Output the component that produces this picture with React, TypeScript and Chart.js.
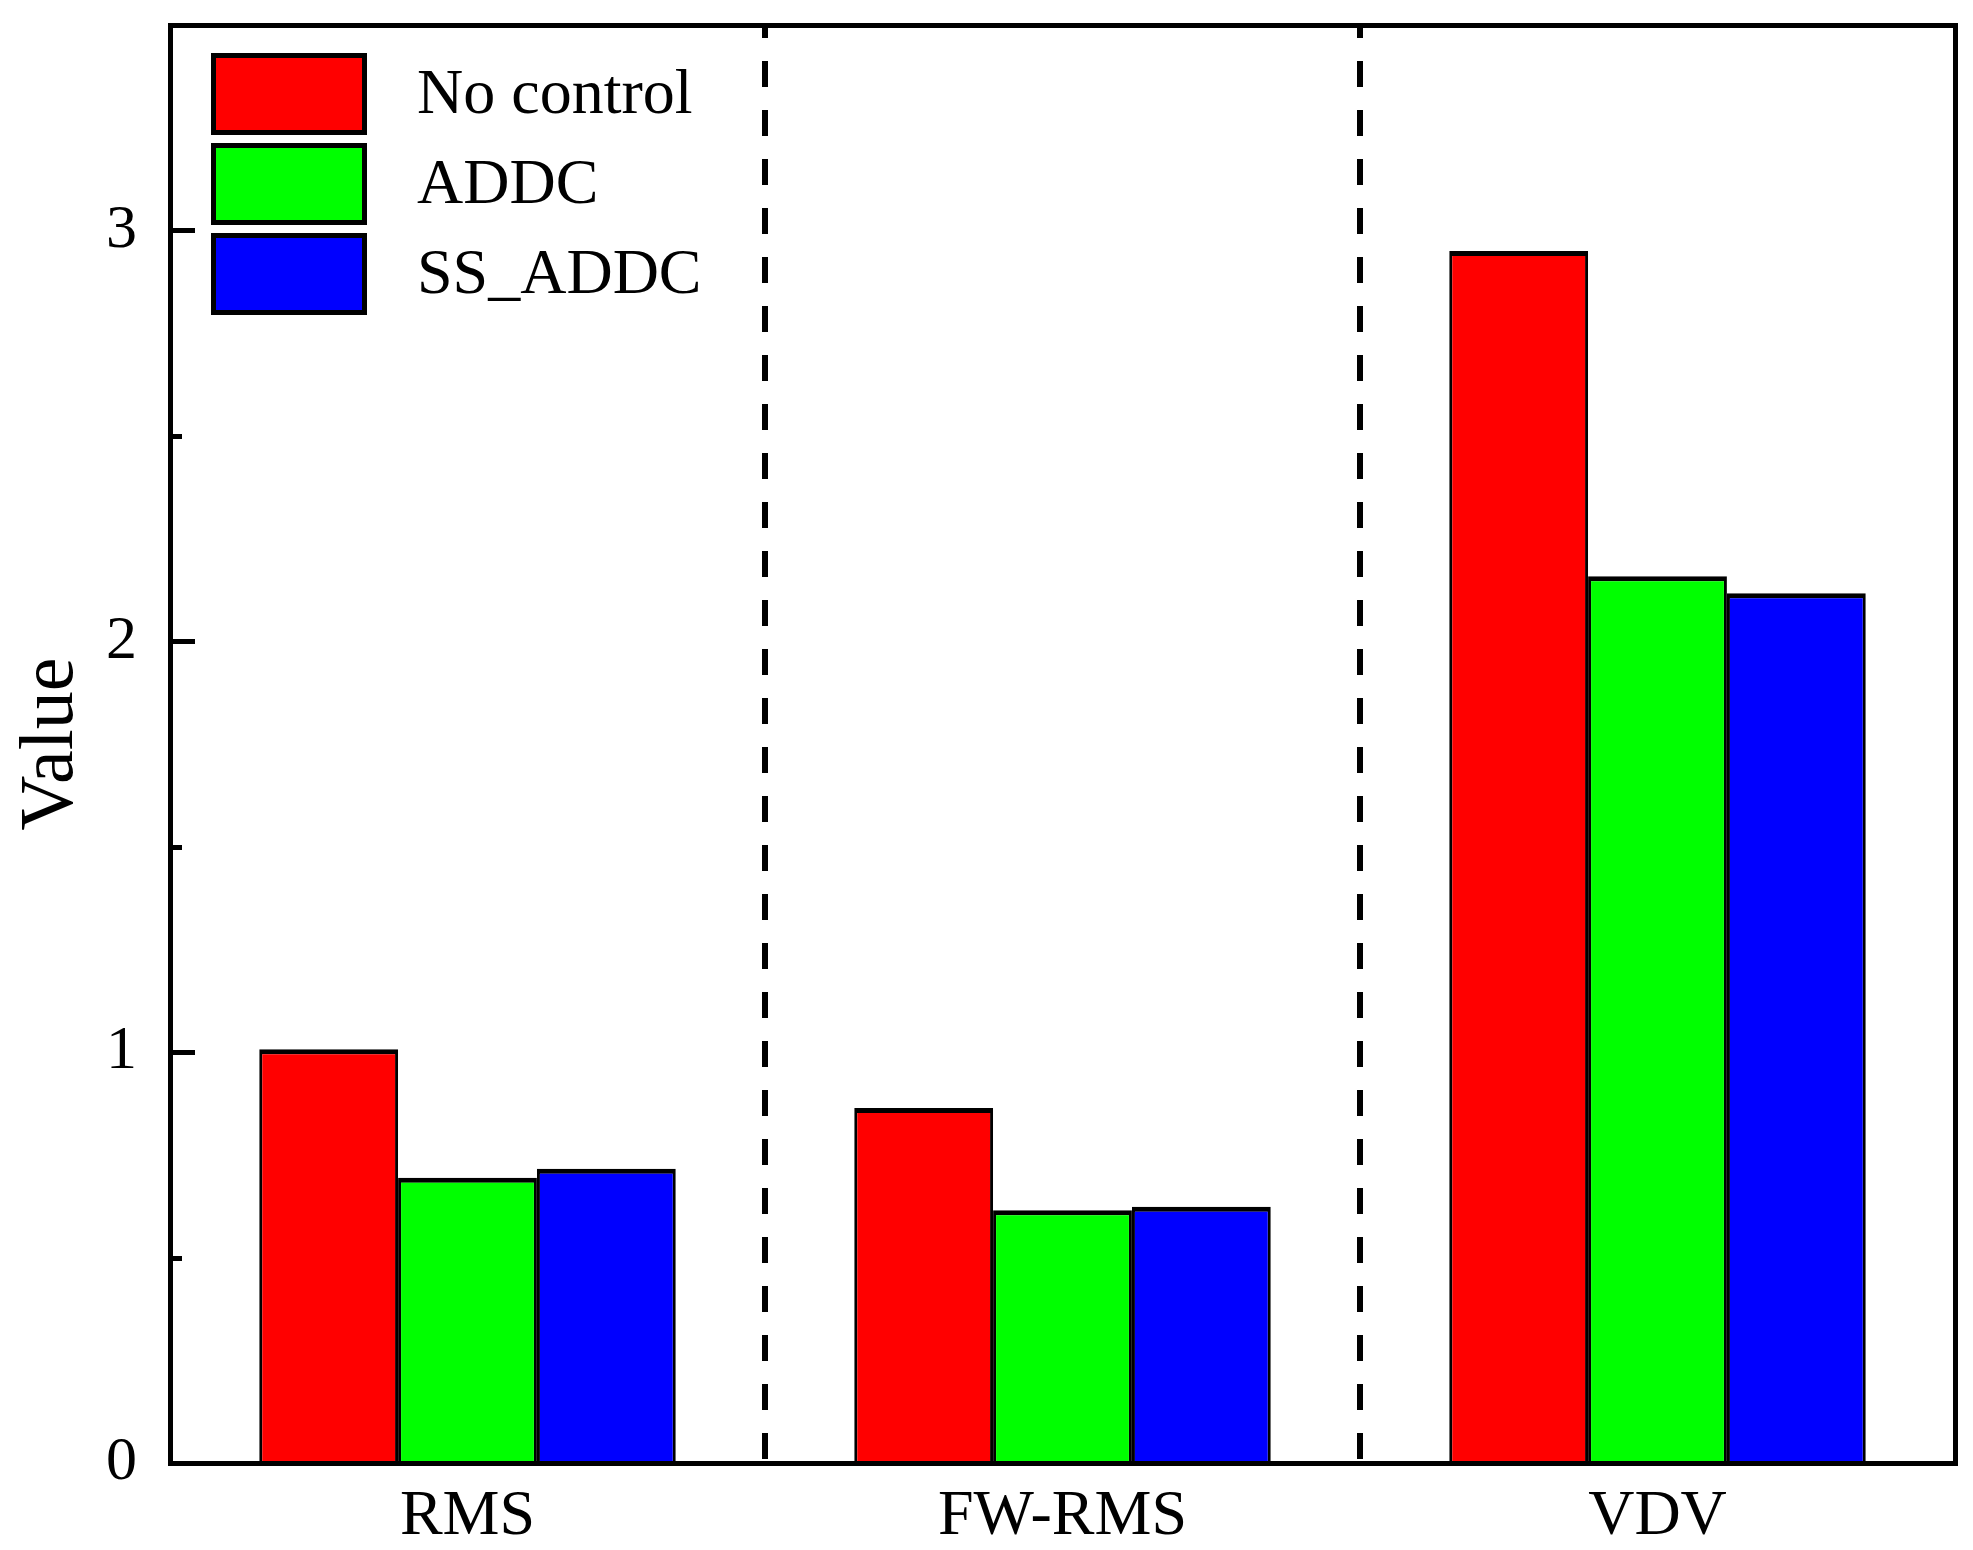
import { useEffect, useRef } from "react";
import { Chart, registerables, Plugin } from "chart.js";

Chart.register(...registerables);

const categories = ["RMS", "FW-RMS", "VDV"];
const seriesNames = ["No control", "ADDC", "SS_ADDC"];
const noControl = [1.007, 0.864, 2.95];
const addc = [0.694, 0.615, 2.158];
const ssAddc = [0.716, 0.624, 2.117];
const seriesColors = ["#ff0000", "#00ff00", "#0000ff"];
const yMajorTicks = [0, 1, 2, 3];
const yMinorTicks = [0.5, 1.5, 2.5];

const FONT = "'Liberation Serif', 'Times New Roman', serif";

// frame around the plot, inward ticks and the legend inside the plot area
const framePlugin: Plugin<"bar"> = {
  id: "frame",
  afterDatasetsDraw(chart) {
    const { ctx, chartArea } = chart;
    const left = Math.round(chartArea.left);
    const top = Math.round(chartArea.top);
    const right = Math.round(chartArea.right);
    const bottom = Math.round(chartArea.bottom);
    const y = chart.scales.y;
    const lw = 5;
    const h = 2;

    ctx.save();
    ctx.fillStyle = "#000";

    yMajorTicks.forEach((v) => {
      const py = Math.round(y.getPixelForValue(v));
      ctx.fillRect(left, py - h, 25, lw);
    });
    yMinorTicks.forEach((v) => {
      const py = Math.round(y.getPixelForValue(v));
      ctx.fillRect(left, py - h, 12, lw);
    });

    ctx.fillRect(left - h, top - h, right - left + lw, lw);
    ctx.fillRect(left - h, bottom - h, right - left + lw, lw);
    ctx.fillRect(left - h, top - h, lw, bottom - top + lw);
    ctx.fillRect(right - h, top - h, lw, bottom - top + lw);

    // legend
    const boxX = left + 41;
    const boxY = top + 28;
    const boxW = 156;
    const boxH = 82;
    const step = 90;
    ctx.font = `64px ${FONT}`;
    ctx.textAlign = "left";
    ctx.textBaseline = "middle";
    ctx.strokeStyle = "#000";
    ctx.lineWidth = 5;
    chart.data.datasets.forEach((ds, i) => {
      const by = boxY + i * step;
      ctx.fillStyle = ds.backgroundColor as string;
      ctx.fillRect(boxX, by, boxW, boxH);
      ctx.strokeRect(boxX + 2.5, by + 2.5, boxW - 5, boxH - 5);
      ctx.fillStyle = "#000";
      ctx.fillText(ds.label as string, boxX + 206, by + boxH / 2 + 2);
    });
    ctx.restore();
  },
};

export default function App() {
  const chartRef = useRef<HTMLCanvasElement>(null);

  useEffect(() => {
    if (!chartRef.current) return;
    const ctx = chartRef.current.getContext("2d");
    if (!ctx) return;

    const values = [noControl, addc, ssAddc];

    const chart = new Chart(ctx, {
      type: "bar",
      data: {
        labels: categories,
        datasets: seriesNames.map((name, i) => ({
          label: name,
          data: values[i],
          backgroundColor: seriesColors[i],
          borderColor: "#000",
          borderWidth: { top: 5, left: 3, right: 3, bottom: 0 },
          categoryPercentage: 0.7,
          barPercentage: 1.0,
        })),
      },
      options: {
        animation: false,
        responsive: true,
        maintainAspectRatio: false,
        layout: {
          padding: { top: 25, right: 18, left: 0, bottom: 0 },
        },
        plugins: {
          legend: { display: false },
          tooltip: { enabled: false },
        },
        scales: {
          x: {
            afterFit: (scale) => {
              scale.height = 87;
              scale.paddingLeft = 0;
              scale.paddingRight = 0;
            },
            grid: {
              display: true,
              offset: true,
              drawTicks: false,
              lineWidth: 6,
              // only the lines between categories; the frame covers the edges
              color: (c) =>
                typeof c.index === "number" &&
                c.index > 0 &&
                c.index < categories.length
                  ? "#000"
                  : "rgba(0,0,0,0)",
            },
            border: { display: false, dash: [26, 23], dashOffset: 13 },
            ticks: {
              color: "#000",
              padding: 16,
              font: { family: FONT, size: 64 },
            },
          },
          y: {
            min: 0,
            max: 3.5,
            afterFit: (scale) => {
              scale.width = 170;
              scale.paddingTop = 0;
              scale.paddingBottom = 0;
            },
            grid: { display: false, drawTicks: false },
            border: { display: false },
            ticks: {
              stepSize: 0.5,
              color: "#000",
              padding: 33,
              font: { family: FONT, size: 62 },
              callback: (v) =>
                yMajorTicks.includes(Number(v)) ? String(v) : "",
            },
            title: {
              display: true,
              text: "Value",
              color: "#000",
              padding: { top: 6, bottom: 0 },
              font: { family: FONT, size: 76 },
            },
          },
        },
      },
      plugins: [framePlugin],
    });

    return () => chart.destroy();
  }, []);

  return (
    <div
      style={{
        position: "fixed",
        left: 0,
        top: 0,
        width: 1973,
        height: 1550,
        background: "#fff",
      }}
    >
      <canvas ref={chartRef} />
    </div>
  );
}
